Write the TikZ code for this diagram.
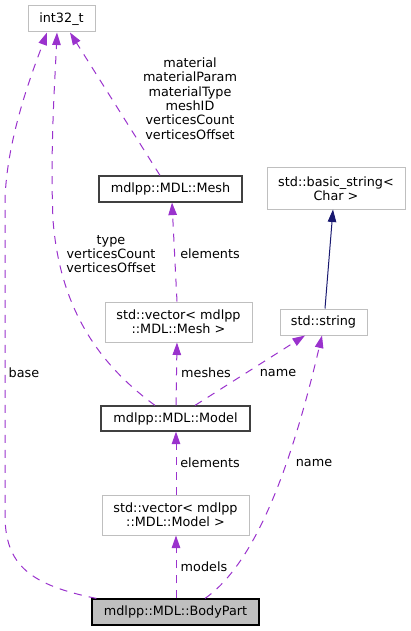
\documentclass[tikz,border=0pt]{standalone}
\usepackage{fontspec}
\setmainfont{DejaVu Sans}
\usetikzlibrary{arrows.meta}
\definecolor{cgray}{HTML}{BFBFBF}
\definecolor{cdark}{HTML}{404040}
\definecolor{cpurple}{HTML}{9A32CD}
\definecolor{cnavy}{HTML}{191970}
\newcommand{\dfont}{\fontsize{12.8pt}{14.3pt}\selectfont}
\tikzset{
  gbox/.style={draw=cgray, fill=white, line width=1pt, inner sep=0pt, align=center, font=\dfont},
  dbox/.style={draw=cdark, fill=white, line width=1.2pt, inner sep=0pt, align=center, font=\dfont},
  lbl/.style={inner sep=0pt, align=center, font=\dfont},
  dep/.style={draw=cpurple, line width=1pt, dash pattern=on 8pt off 7pt, -{Triangle[length=12.5pt,width=8.5pt]}},
  inh/.style={draw=cnavy, line width=1pt, -{Triangle[length=12.5pt,width=8.5pt]}}
}
\begin{document}
\begin{tikzpicture}[x=1pt,y=-1pt]
\useasboundingbox (0,0) rectangle (411,631);
% nodes
\node[gbox, minimum width=67pt, minimum height=26pt] (int) at (61.5,19) {int32\_t};
\node[dbox, minimum width=143pt, minimum height=26pt] (mesh) at (170.5,189) {mdlpp::MDL::Mesh};
\node[gbox, minimum width=138pt, minimum height=41pt] (bstr) at (336,188.5) {std::basic\_string<\\Char >};
\node[gbox, minimum width=87pt, minimum height=26pt] (str) at (323.5,322) {std::string};
\node[gbox, minimum width=147pt, minimum height=40pt] (vmesh) at (178.5,322) {std::vector< mdlpp\\::MDL::Mesh >};
\node[dbox, minimum width=149pt, minimum height=25pt] (model) at (175.5,418.5) {mdlpp::MDL::Model};
\node[gbox, minimum width=147pt, minimum height=40pt] (vmodel) at (175.5,515) {std::vector< mdlpp\\::MDL::Model >};
\node[dbox, draw=black, fill=cgray, minimum width=167pt, minimum height=26pt] (body) at (175.5,612) {mdlpp::MDL::BodyPart};
% edges
\draw[dep] ([xshift=5pt]body.north west) .. controls (30,585) and (5,565) .. (5,515) -- (5,205) .. controls (5,140) and (35,65) .. ([xshift=-14.5pt]int.south);
\draw[dep] ([xshift=-20.5pt]model.north) .. controls (100,365) and (60,310) .. (53,220) .. controls (50,150) and (55,80) .. ([xshift=-4.5pt]int.south);
\draw[dep] ([xshift=-10.5pt]mesh.north) -- ([xshift=8.5pt]int.south);
\draw[dep] ([xshift=-1.5pt]vmesh.north) -- ([xshift=1.5pt]mesh.south);
\draw[dep] ([xshift=0.5pt]model.north) -- ([xshift=-1.5pt]vmesh.south);
\draw[dep] ([xshift=19.5pt]model.north) -- ([xshift=-18.5pt]str.south);
\draw[dep] ([xshift=29.5pt]body.north) .. controls (260,560) and (295,450) .. ([xshift=-1.5pt]str.south);
\draw[inh] ([xshift=1.5pt]str.north) -- ([xshift=-3pt]bstr.south);
\draw[dep] ([xshift=0.5pt]vmodel.north) -- ([xshift=0.5pt]model.south);
\draw[dep] ([xshift=0.5pt]body.north) -- ([xshift=0.5pt]vmodel.south);
% labels
\node[lbl] (l1) at (190,98.5) {material\\materialParam\\materialType\\meshID\\verticesCount\\verticesOffset};
\node[lbl] (l2) at (111,254) {type\\verticesCount\\verticesOffset};
\node[lbl] (l3) at (210,254) {elements};
\node[lbl] (l4) at (24,373) {base};
\node[lbl] (l5) at (206,373) {meshes};
\node[lbl] (l6) at (278,373) {name};
\node[lbl] (l7) at (210,463) {elements};
\node[lbl] (l8) at (314,463) {name};
\node[lbl] (l9) at (204,567) {models};
\end{tikzpicture}
\end{document}
